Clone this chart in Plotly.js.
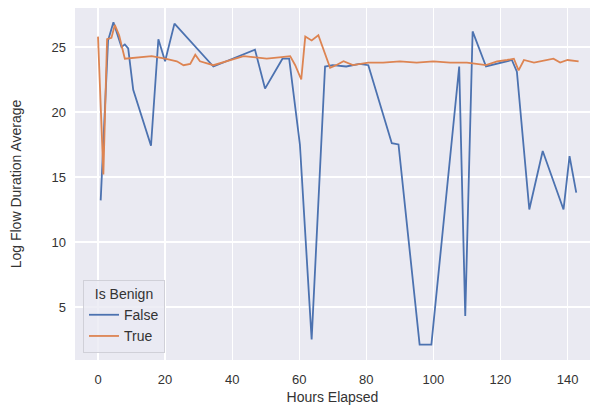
<!DOCTYPE html>
<html>
<head>
<meta charset="utf-8">
<script src="https://cdn.plot.ly/plotly-3.0.1.min.js"></script>
<style>html,body{margin:0;padding:0;background:#fff;}#chart{width:592px;height:414px;}</style>
</head>
<body>
<div id="chart"></div>
<script>
// Is Benign = False
const falseHours = [0.8, 3.0, 4.6, 7.0, 8.0, 9.0, 10.5, 15.8, 18.0, 20.0, 22.8, 34.4, 46.8, 49.8, 55.0, 57.0, 60.2, 63.7, 67.7, 70.0, 74.0, 78.0, 80.6, 87.6, 89.6, 95.9, 99.4, 107.7, 109.5, 111.7, 115.7, 120.0, 123.4, 124.9, 128.6, 132.6, 138.8, 140.6, 142.6];
const falseValues = [13.2, 25.5, 26.9, 25.0, 25.2, 24.9, 21.7, 17.4, 25.6, 23.9, 26.8, 23.5, 24.8, 21.8, 24.1, 24.1, 17.5, 2.5, 23.5, 23.6, 23.5, 23.7, 23.6, 17.6, 17.5, 2.1, 2.1, 23.5, 4.3, 26.2, 23.5, 23.8, 24.0, 23.1, 12.5, 17.0, 12.5, 16.6, 13.8];
// Is Benign = True
const trueHours = [0, 1.6, 2.7, 4.0, 5.0, 6.3, 8.0, 12.0, 16.0, 20.0, 23.5, 25.5, 27.5, 29.0, 30.4, 34.4, 38.0, 43.4, 47.0, 50.3, 54.0, 57.3, 58.8, 60.6, 61.8, 63.7, 65.7, 67.7, 69.2, 71.0, 73.2, 76.0, 78.0, 80.6, 85.0, 90.0, 95.0, 100.0, 105.0, 110.0, 115.7, 119.0, 122.0, 124.0, 125.4, 127.0, 130.0, 132.0, 135.8, 137.8, 140.0, 143.3];
const trueValues = [25.8, 15.2, 25.6, 25.7, 26.7, 25.9, 24.1, 24.2, 24.3, 24.1, 23.9, 23.6, 23.7, 24.4, 23.9, 23.6, 23.9, 24.3, 24.2, 24.1, 24.2, 24.3, 23.6, 22.5, 25.8, 25.5, 25.9, 24.5, 23.4, 23.6, 23.9, 23.6, 23.7, 23.8, 23.8, 23.9, 23.8, 23.9, 23.8, 23.8, 23.6, 23.9, 24.0, 24.1, 23.2, 24.0, 23.8, 23.9, 24.1, 23.8, 24.0, 23.9];
const xTicks = [0, 20, 40, 60, 80, 100, 120, 140];
const yTicks = [5, 10, 15, 20, 25];

const traces = [
  {x: falseHours, y: falseValues, type: 'scatter', mode: 'lines', name: 'False',
   line: {color: '#4C72B0', width: 1.8}},
  {x: trueHours, y: trueValues, type: 'scatter', mode: 'lines', name: 'True',
   line: {color: '#DD8452', width: 1.8}}
];
const font = {family: '"Liberation Sans", Arial, sans-serif', color: '#333333'};
const layout = {
  width: 592, height: 414,
  margin: {l: 75, r: 2, t: 8, b: 54},
  paper_bgcolor: '#ffffff', plot_bgcolor: '#EAEAF2',
  font: Object.assign({size: 13}, font),
  xaxis: {range: [-6.86, 146.7], tickvals: xTicks, gridcolor: '#ffffff', gridwidth: 1.3,
          zeroline: false, showline: false, ticks: '', ticklabelstandoff: 10,
          tickfont: {size: 13, color: '#333333'},
          title: {text: 'Hours Elapsed', font: {size: 14, color: '#333333'}, standoff: 6}},
  yaxis: {range: [0.92, 28], tickvals: yTicks, gridcolor: '#ffffff', gridwidth: 1.3,
          zeroline: false, showline: false, ticks: '', ticklabelstandoff: 8,
          tickfont: {size: 13, color: '#333333'},
          title: {text: 'Log Flow Duration Average', font: {size: 14, color: '#333333'}, standoff: 26}},
  showlegend: true,
  legend: {x: 0.0155, y: 0.02, xanchor: 'left', yanchor: 'bottom',
           bgcolor: 'rgba(234,234,242,0.8)', bordercolor: '#d0d0d8', borderwidth: 1,
           font: {size: 14, color: '#333333'}, entrywidth: 70,
           title: {text: 'Is Benign', side: 'top center', font: {size: 14, color: '#333333'}},
           tracegroupgap: 0}
};
Plotly.newPlot('chart', traces, layout, {displayModeBar: false, staticPlot: true});
</script>
</body>
</html>
